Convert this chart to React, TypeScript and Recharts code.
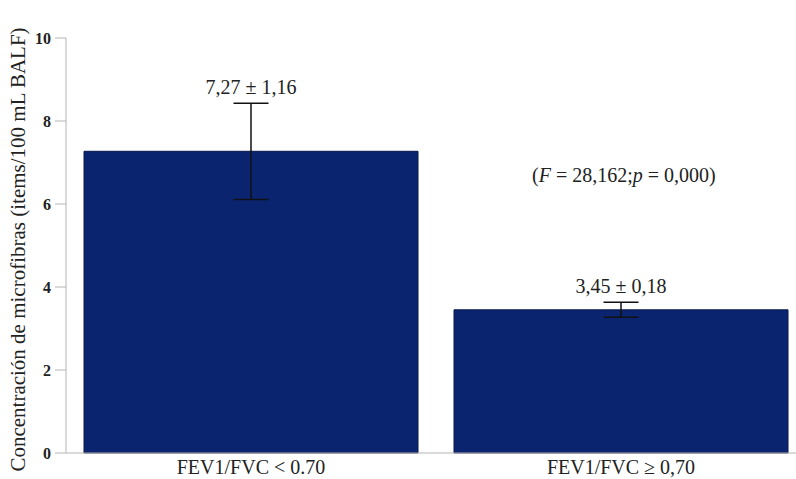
import { Bar, BarChart, ErrorBar, LabelList, XAxis, YAxis } from "recharts";

const groups = ["FEV1/FVC < 0.70", "FEV1/FVC \u2265 0,70"];
const means = [7.27, 3.45];
const errors = [1.16, 0.18];
const valueLabels = ["7,27 \u00b1 1,16", "3,45 \u00b1 0,18"];
const yTicks = [0, 2, 4, 6, 8, 10];

const data = groups.map((g, i) => ({ group: g, mean: means[i], err: errors[i], label: valueLabels[i] }));

const serif = "Liberation Serif, Times New Roman, serif";
const axisGray = "#b4b4b4";

// label sits above the error bar's upper cap
function MeanLabel(props: any) {
  const { x, y, width, height, index, value } = props;
  const row = data[index];
  const pxPerUnit = height / row.mean;
  const top = y - row.err * pxPerUnit;
  return (
    <text x={x + width / 2} y={top - 9} textAnchor="middle" style={{ fontFamily: serif, fontSize: 20 }} fill="#222">
      {value}
    </text>
  );
}

function YTitle(props: any) {
  const { viewBox } = props;
  const cy = viewBox.y + viewBox.height / 2 + 4;
  return (
    <text
      x={18}
      y={cy}
      transform={`rotate(-90, 18, ${cy})`}
      textAnchor="middle"
      dominantBaseline="central"
      style={{ fontFamily: serif, fontSize: 21 }}
      fill="#222"
    >
      Concentración de microfibras (items/100 mL BALF)
    </text>
  );
}

export default function App() {
  return (
    <div style={{ position: "fixed", left: 0, top: 0, width: 796, height: 479, overflow: "hidden", background: "#fff" }}>
      <BarChart width={820} height={479} data={data} margin={{ top: 38, right: 14, left: 0, bottom: 0 }}>
        <XAxis
          dataKey="group"
          height={26}
          stroke={axisGray}
          tickLine={false}
          tick={{ fontFamily: serif, fontSize: 20, fill: "#222" }}
          tickMargin={1}
        />
        <YAxis
          width={66}
          domain={[0, 10]}
          ticks={yTicks}
          stroke={axisGray}
          tickSize={11}
          tickMargin={4}
          tick={{ fontFamily: serif, fontSize: 16, fontWeight: 700, fill: "#222" }}
          label={<YTitle />}
        />
        <Bar dataKey="mean" barSize={334} fill="#0b2470" stroke="#08184a" strokeWidth={1} isAnimationActive={false}>
          <ErrorBar dataKey="err" direction="y" width={17.5} stroke="#111" strokeWidth={1.5} isAnimationActive={false} />
          <LabelList dataKey="label" content={<MeanLabel />} />
        </Bar>
      </BarChart>
      <div
        style={{
          position: "absolute",
          left: 532,
          top: 164,
          fontFamily: serif,
          fontSize: 20,
          color: "#222",
          whiteSpace: "nowrap",
        }}
      >
        (<i>F</i> = 28,162;<i>p</i> = 0,000)
      </div>
    </div>
  );
}
